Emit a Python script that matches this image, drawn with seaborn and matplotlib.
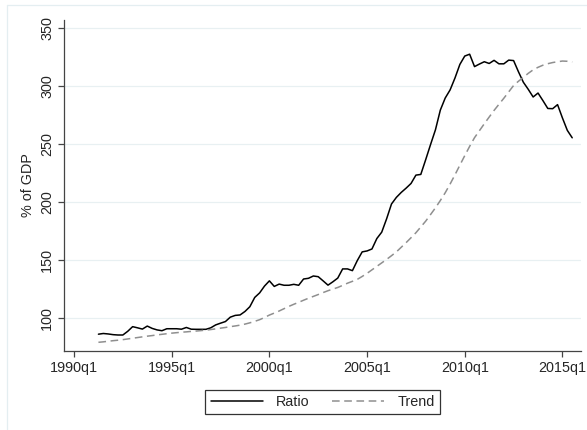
import matplotlib
matplotlib.use("Agg")
import matplotlib.pyplot as plt
from matplotlib.lines import Line2D
import seaborn as sns
import pandas as pd

# Quarter index: 0 = 1990q1; data run from 1991q2 (5) to 2015q3 (102)
start_q = 5
ratio = [86.0, 86.6, 86.2, 85.6, 85.3, 85.3, 88.5, 92.5, 91.5, 90.4,
         93.0, 91.0, 89.7, 89.0, 90.7, 90.7, 90.7, 90.3, 91.8, 90.3,
         90.2, 90.2, 90.2, 91.5, 94.0, 95.5, 96.9, 100.7, 102.2, 102.6,
         105.6, 109.7, 117.7, 121.6, 127.5, 132.0, 127.2, 129.2, 128.2, 128.2,
         129.0, 128.2, 133.6, 134.2, 136.2, 135.6, 132.0, 128.3, 131.2, 134.4,
         142.3, 142.3, 140.8, 149.5, 157.0, 157.8, 159.5, 168.5, 174.0, 185.5,
         198.3, 204.0, 208.3, 212.0, 216.0, 223.2, 223.8, 236.5, 249.6, 262.3,
         279.3, 289.7, 296.7, 307.0, 318.7, 325.9, 327.5, 316.8, 319.0, 321.0,
         319.5, 322.2, 319.2, 319.2, 322.4, 322.0, 312.3, 303.3, 297.2, 290.6,
         294.0, 287.5, 280.7, 280.5, 284.0, 272.5, 261.8, 255.4]
trend = [79.0, 79.4, 79.9, 80.4, 80.8, 81.3, 81.9, 82.5, 83.1, 83.7,
         84.3, 84.8, 85.4, 85.9, 86.4, 86.9, 87.3, 87.7, 88.0, 88.4,
         88.7, 89.1, 89.5, 90.0, 90.6, 91.2, 91.8, 92.5, 93.1, 93.8,
         94.7, 95.8, 97.1, 98.5, 100.4, 102.5, 104.2, 106.0, 108.0, 110.0,
         111.8, 113.5, 115.3, 117.0, 118.6, 120.2, 121.9, 123.5, 124.9, 126.3,
         128.1, 130.0, 131.6, 133.3, 135.8, 138.5, 141.5, 144.5, 147.5, 150.5,
         153.7, 157.0, 161.0, 165.0, 169.2, 173.5, 178.5, 183.5, 189.2, 195.0,
         201.3, 208.0, 215.5, 223.5, 231.8, 240.0, 248.0, 255.5, 261.5, 267.5,
         273.3, 279.0, 284.3, 289.5, 295.0, 300.5, 304.2, 307.5, 311.0, 314.0,
         316.2, 318.0, 319.3, 320.3, 321.0, 321.6, 321.4, 320.8]
xtick_pos = [0, 20, 40, 60, 80, 100]
xtick_labels = ["1990q1", "1995q1", "2000q1", "2005q1", "2010q1", "2015q1"]
ytick_vals = [100, 150, 200, 250, 300, 350]

quarters = list(range(start_q, start_q + len(ratio)))
df = pd.DataFrame({"q": quarters, "Ratio": ratio, "Trend": trend})

sns.set_style("white")
plt.rcParams["font.family"] = ["Liberation Sans", "DejaVu Sans"]

W, H = 587, 430
fig = plt.figure(figsize=(W / 100, H / 100), dpi=100)
ax = fig.add_axes([64 / W, 1 - 351 / H, (581 - 64) / W, (351 - 20) / H])

sns.lineplot(data=df, x="q", y="Ratio", ax=ax, color="black", lw=1.1,
             label="Ratio", legend=False)
sns.lineplot(data=df, x="q", y="Trend", ax=ax, color="#8f8f8f", lw=1.1,
             dashes=False, label="Trend", legend=False)
ax.lines[1].set_dashes([5, 3])

ax.set_xlim(-2.05, 103.8)
ax.set_ylim(71.5, 357)
ax.set_xticks(xtick_pos)
ax.set_xticklabels(xtick_labels, fontsize=10.4)
ax.set_yticks(ytick_vals)
ax.set_yticklabels([str(v) for v in ytick_vals], fontsize=10.4,
                   rotation=90, va="center")
ax.set_xlabel("")
ax.set_ylabel("% of GDP", fontsize=10.4, labelpad=4)
ax.grid(axis="y", color="#e8f0f2", lw=0.9)
ax.grid(axis="x", visible=False)
for s in ["top", "right"]:
    ax.spines[s].set_visible(False)
for s in ["left", "bottom"]:
    ax.spines[s].set_color("#444444")
    ax.spines[s].set_linewidth(0.9)
ax.tick_params(axis="both", direction="out", length=4, width=0.9,
               color="#444444", pad=3, left=True, bottom=True)

handles = [Line2D([], [], color="black", lw=1.1),
           Line2D([], [], color="#8f8f8f", lw=1.1, dashes=[5, 3])]
leg = fig.legend(handles, ["Ratio", "Trend"], loc="center",
                 bbox_to_anchor=(322.5 / W, 1 - 402 / H), ncol=2,
                 fontsize=10.4, frameon=True, fancybox=False,
                 edgecolor="black", handlelength=3.6, handletextpad=0.9,
                 columnspacing=1.6, borderpad=0.35)
leg.get_frame().set_linewidth(0.9)

# outer graph-region outline
fig.add_artist(Line2D([6.5 / W, 6.5 / W], [0, 1 - 4.5 / H],
                      transform=fig.transFigure, color="#e4eef1", lw=0.9))
fig.add_artist(Line2D([6.5 / W, 1], [1 - 4.5 / H, 1 - 4.5 / H],
                      transform=fig.transFigure, color="#e4eef1", lw=0.9))

fig.savefig("out.png", dpi=100)
